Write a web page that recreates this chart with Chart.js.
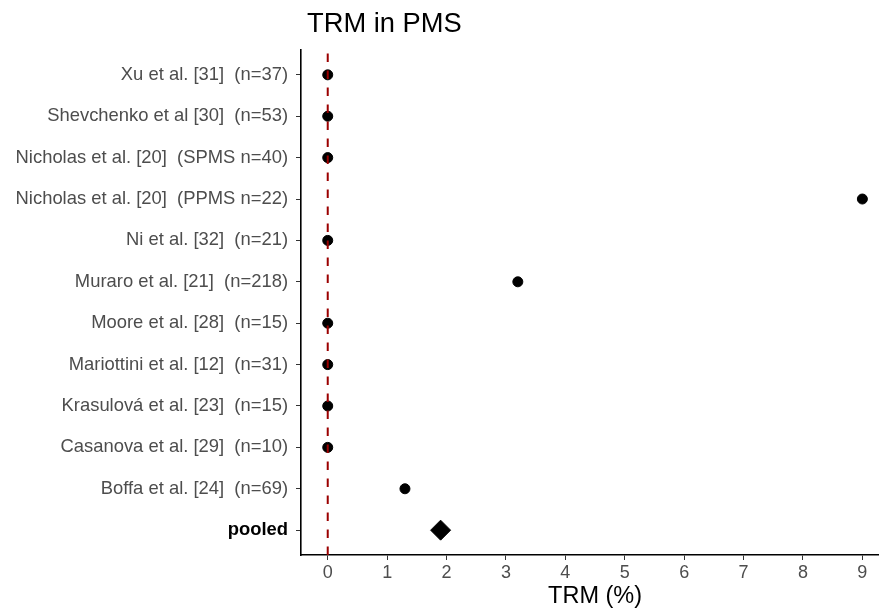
<!DOCTYPE html>
<html>
<head>
<meta charset="utf-8">
<script src="https://cdn.jsdelivr.net/npm/chart.js@4"></script>
<style>
    html, body { margin: 0; padding: 0; background: #fff; overflow: hidden; }
    #forest { display: block; }
</style>
</head>
<body>
<canvas id="forest" width="879" height="612"></canvas>
<script>
// studies, top to bottom
var studies = [
    "Xu et al. [31]  (n=37)",
    "Shevchenko et al [30]  (n=53)",
    "Nicholas et al. [20]  (SPMS n=40)",
    "Nicholas et al. [20]  (PPMS n=22)",
    "Ni et al. [32]  (n=21)",
    "Muraro et al. [21]  (n=218)",
    "Moore et al. [28]  (n=15)",
    "Mariottini et al. [12]  (n=31)",
    "Krasulová et al. [23]  (n=15)",
    "Casanova et al. [29]  (n=10)",
    "Boffa et al. [24]  (n=69)"
];
var trm = [0, 0, 0, 9, 0, 3.2, 0, 0, 0, 0, 1.3];
var pooledLabel = "pooled";
var pooledValue = 1.9;
var xTicks = [0, 1, 2, 3, 4, 5, 6, 7, 8, 9];

var labels = studies.concat([pooledLabel]);
var nRows = labels.length;
var FONT = '"Liberation Sans", Arial, sans-serif';

function rowPos(i) { return nRows - i; }

var studyPoints = trm.map(function (v, i) { return { x: v, y: rowPos(i) }; });
var pooledPoints = [{ x: pooledValue, y: rowPos(nRows - 1) }];
var refLine = [{ x: 0, y: 0.4 }, { x: 0, y: nRows + 0.6 }];

// title and x axis title, placed like ggplot does (panel runs past the right edge)
var textPlugin = {
    id: 'ggText',
    afterDraw: function (chart) {
        var ctx = chart.ctx;
        var xs = chart.scales.x;
        ctx.save();
        ctx.fillStyle = '#000';
        ctx.textBaseline = 'alphabetic';
        ctx.font = '27.3px ' + FONT;
        ctx.textAlign = 'left';
        ctx.fillText('TRM in PMS', chart.chartArea.left + 6, 32);
        ctx.font = '23.5px ' + FONT;
        ctx.textAlign = 'center';
        ctx.fillText('TRM (%)', xs.getPixelForValue(4.5), 603);
        ctx.restore();
    }
};

var ctx = document.getElementById('forest').getContext('2d');
new Chart(ctx, {
    type: 'scatter',
    data: {
        datasets: [{
            type: 'line',
            data: refLine,
            borderColor: '#9b0000',
            borderWidth: 2,
            borderDash: [8.5, 8.5],
            pointRadius: 0,
            fill: false,
            order: 0
        }, {
            data: studyPoints,
            backgroundColor: '#000',
            borderColor: '#000',
            pointRadius: 5,
            pointHoverRadius: 5,
            order: 1
        }, {
            data: pooledPoints,
            pointStyle: 'rectRot',
            backgroundColor: '#000',
            borderColor: '#000',
            pointRadius: 10,
            pointHoverRadius: 10,
            order: 2
        }]
    },
    options: {
        responsive: false,
        animation: false,
        layout: {
            autoPadding: false,
            padding: { top: 50, right: 0, left: 0, bottom: 0 }
        },
        plugins: {
            legend: { display: false },
            tooltip: { enabled: false }
        },
        scales: {
            x: {
                type: 'linear',
                min: -0.45,
                max: 9.28,
                afterBuildTicks: function (scale) {
                    scale.ticks = xTicks.map(function (v) { return { value: v }; });
                },
                afterFit: function (scale) { scale.height = 57; },
                grid: {
                    drawOnChartArea: false,
                    drawTicks: true,
                    tickLength: 5,
                    color: '#333'
                },
                border: { color: '#000', width: 1.6 },
                ticks: {
                    color: '#4d4d4d',
                    font: { family: FONT, size: 18 },
                    padding: 2
                }
            },
            y: {
                type: 'linear',
                min: 0.4,
                max: nRows + 0.6,
                afterBuildTicks: function (scale) {
                    scale.ticks = labels.map(function (l, i) { return { value: rowPos(i) }; });
                },
                afterFit: function (scale) { scale.width = 301; },
                grid: {
                    drawOnChartArea: false,
                    drawTicks: true,
                    tickLength: 5,
                    color: '#333'
                },
                border: { color: '#000', width: 1.6 },
                ticks: {
                    padding: 8,
                    callback: function (value) { return labels[nRows - value]; },
                    color: function (c) { return c.tick.value === 1 ? '#000' : '#4d4d4d'; },
                    font: function (c) {
                        return {
                            family: FONT,
                            size: 18.4,
                            weight: c.tick && c.tick.value === 1 ? 'bold' : 'normal'
                        };
                    }
                }
            }
        }
    },
    plugins: [textPlugin]
});
</script>
</body>
</html>
